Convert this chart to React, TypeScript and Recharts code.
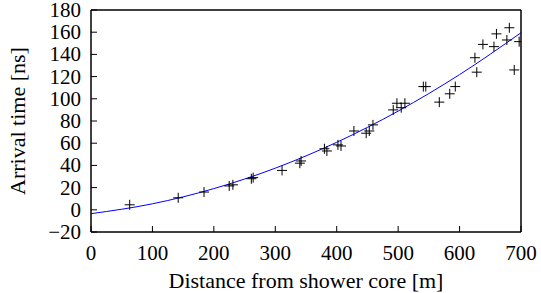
import { ComposedChart, Line, Scatter, XAxis, YAxis, ReferenceArea } from "recharts";

const xTicks = [0, 100, 200, 300, 400, 500, 600, 700];
const yTicks = [-20, 0, 20, 40, 60, 80, 100, 120, 140, 160, 180];

// measured arrival times (distance m, time ns)
const distances = [
  63, 142, 184, 225, 231, 261, 264, 311, 340, 342, 380, 384, 402, 407, 428, 448, 453, 459,
  492, 498, 505, 511, 541, 545, 567, 584, 593, 625, 628, 638, 656, 660, 677, 681, 689, 697,
];
const times = [
  4.5, 10.8, 16, 21.5, 22.5, 28, 29, 35.5, 42, 44, 55, 53, 58.5, 57.5, 71, 69, 71, 76.5,
  90, 96, 92, 96, 111, 111, 97, 104.5, 111, 137, 124, 149, 147, 158.5, 153, 164, 126, 151.5,
];

// fitted curve
const fitD = [0, 100, 200, 300, 400, 500, 600, 700];
const fitT = [-3.5, 5.4, 19.1, 37.5, 60.8, 88.9, 121.8, 159.5];

const points = distances.map((d, i) => ({ d, t: times[i] }));
const fit = fitD.map((d, i) => ({ d, f: fitT[i] }));

const FONT = '"Liberation Serif", "Times New Roman", "DejaVu Serif", serif';
const TICK_LEN = 6;
const fmt = (v: number) => (v < 0 ? `\u2212${-v}` : `${v}`);
const tickTxt = { fontFamily: FONT, fontSize: 21 };
const titleTxt = { fontFamily: FONT, fontSize: 22 };

const BottomTick = (props: any) => {
  const { x, y, payload } = props;
  const axisY = y - 14;
  return (
    <g>
      <line x1={x} x2={x} y1={axisY} y2={axisY - TICK_LEN} stroke="#000" />
      <text x={x} y={y} dy={14} textAnchor="middle" style={tickTxt} fill="#000">
        {fmt(payload.value)}
      </text>
    </g>
  );
};

const LeftTick = (props: any) => {
  const { x, y, payload } = props;
  const axisX = x + 10;
  return (
    <g>
      <line x1={axisX} x2={axisX + TICK_LEN} y1={y} y2={y} stroke="#000" />
      <text x={x} y={y} dy={7} textAnchor="end" style={tickTxt} fill="#000">
        {fmt(payload.value)}
      </text>
    </g>
  );
};

const TopTick = (props: any) => {
  const { x, y } = props;
  return <line x1={x} x2={x} y1={y} y2={y + TICK_LEN} stroke="#000" />;
};

const RightTick = (props: any) => {
  const { x, y } = props;
  return <line x1={x - TICK_LEN} x2={x} y1={y} y2={y} stroke="#000" />;
};

const Cross = (props: any) => {
  const { cx, cy } = props;
  return (
    <g stroke="#000" strokeWidth={1}>
      <line x1={cx - 5} x2={cx + 5} y1={cy} y2={cy} />
      <line x1={cx} x2={cx} y1={cy - 5} y2={cy + 5} />
    </g>
  );
};

export default function App() {
  return (
    <div style={{ position: "absolute", left: 0, top: 0, background: "#fff", fontFamily: FONT }}>
      <ComposedChart
        width={541}
        height={293}
        margin={{ top: 9, right: 19, bottom: 0, left: 0 }}
        style={{ fontFamily: FONT }}
      >
        <XAxis
          dataKey="d"
          type="number"
          domain={[0, 700]}
          ticks={xTicks}
          interval={0}
          allowDataOverflow
          height={61}
          tickSize={0}
          tickMargin={14}
          tickLine={false}
          axisLine={{ stroke: "#000" }}
          tick={<BottomTick />}
          label={{
            content: (p: any) => {
              const vb = p.viewBox;
              return (
                <text
                  x={vb.x + vb.width / 2}
                  y={vb.y + vb.height - 5}
                  textAnchor="middle"
                  style={titleTxt}
                  fill="#000"
                >
                  Distance from shower core [m]
                </text>
              );
            },
          }}
        />
        <XAxis
          xAxisId="top"
          orientation="top"
          dataKey="d"
          type="number"
          domain={[0, 700]}
          ticks={xTicks}
          interval={0}
          height={1}
          tickSize={0}
          tickMargin={0}
          tickLine={false}
          axisLine={{ stroke: "#000" }}
          tick={<TopTick />}
        />
        <YAxis
          type="number"
          domain={[-20, 180]}
          ticks={yTicks}
          interval={0}
          allowDataOverflow
          width={91}
          tickSize={0}
          tickMargin={10}
          tickLine={false}
          axisLine={{ stroke: "#000" }}
          tick={<LeftTick />}
          label={{
            content: (p: any) => {
              const vb = p.viewBox;
              const cx = vb.x + 18;
              const cy = vb.y + vb.height / 2;
              return (
                <text
                  x={cx}
                  y={cy}
                  dy={7}
                  transform={`rotate(-90 ${cx} ${cy})`}
                  textAnchor="middle"
                  style={titleTxt}
                  fill="#000"
                >
                  Arrival time [ns]
                </text>
              );
            },
          }}
        />
        <YAxis
          yAxisId="right"
          orientation="right"
          type="number"
          domain={[-20, 180]}
          ticks={yTicks}
          interval={0}
          width={1}
          tickSize={0}
          tickMargin={0}
          tickLine={false}
          axisLine={{ stroke: "#000" }}
          tick={<RightTick />}
        />
        <ReferenceArea x1={0} x2={700} y1={-20} y2={180} fill="none" stroke="#000" ifOverflow="visible" />
        <Line
          data={fit}
          dataKey="f"
          type="monotone"
          stroke="#0000ff"
          strokeWidth={1}
          dot={false}
          isAnimationActive={false}
        />
        <Scatter data={points} dataKey="t" shape={<Cross />} isAnimationActive={false} />
      </ComposedChart>
    </div>
  );
}
